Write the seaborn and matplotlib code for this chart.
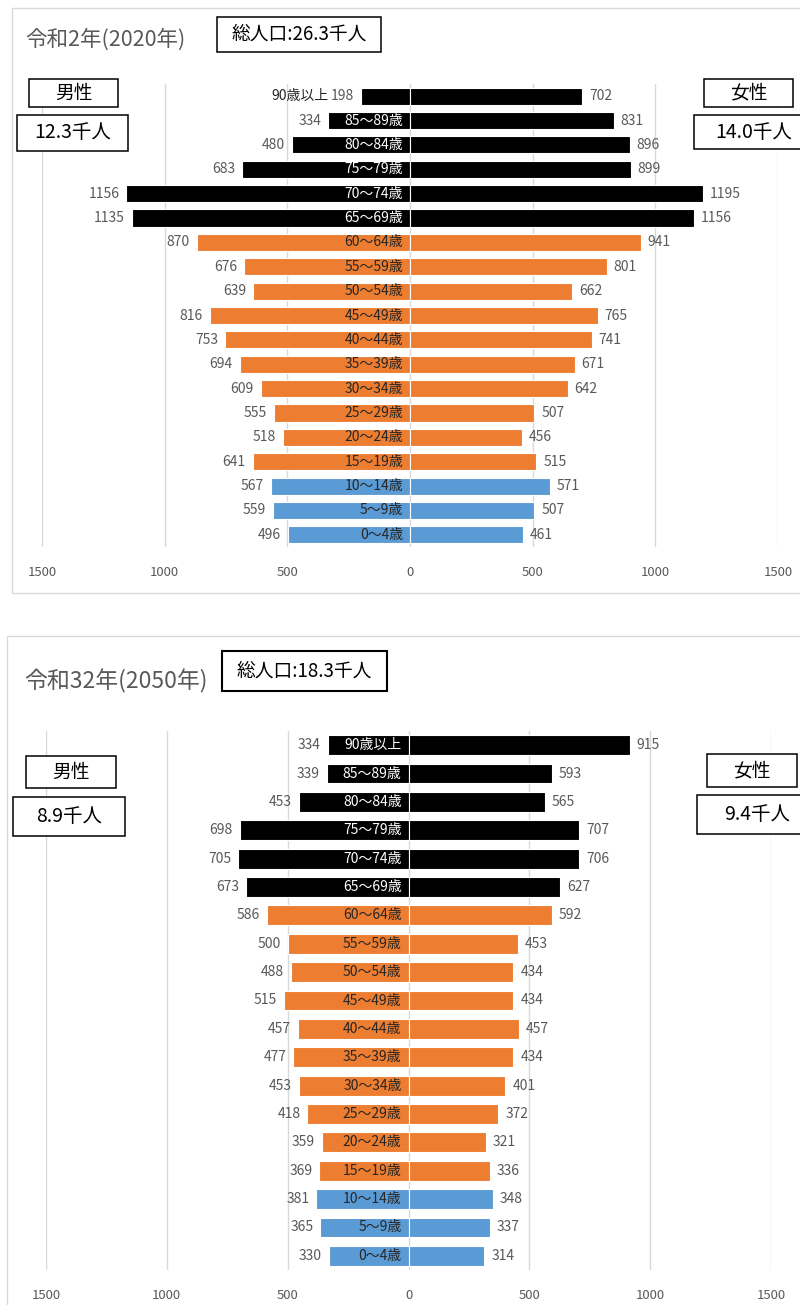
import matplotlib
matplotlib.use("Agg")
import matplotlib.pyplot as plt
from matplotlib.patches import Rectangle
import pandas as pd
import seaborn as sns

# age classes, top row first
ages = ["90歳以上", "85～89歳", "80～84歳", "75～79歳", "70～74歳", "65～69歳",
        "60～64歳", "55～59歳", "50～54歳", "45～49歳", "40～44歳", "35～39歳",
        "30～34歳", "25～29歳", "20～24歳", "15～19歳", "10～14歳", "5～9歳", "0～4歳"]
groups = ["old"] * 6 + ["work"] * 10 + ["young"] * 3

male_2020 = [198, 334, 480, 683, 1156, 1135, 870, 676, 639, 816, 753, 694, 609, 555, 518, 641, 567, 559, 496]
female_2020 = [702, 831, 896, 899, 1195, 1156, 941, 801, 662, 765, 741, 671, 642, 507, 456, 515, 571, 507, 461]
male_2050 = [334, 339, 453, 698, 705, 673, 586, 500, 488, 515, 457, 477, 453, 418, 359, 369, 381, 365, 330]
female_2050 = [915, 593, 565, 707, 706, 627, 592, 453, 434, 434, 457, 434, 401, 372, 321, 336, 348, 337, 314]

titles = ["令和2年(2020年)", "令和32年(2050年)"]
totals = ["総人口:26.3千人", "総人口:18.3千人"]
male_totals = ["12.3千人", "8.9千人"]
female_totals = ["14.0千人", "9.4千人"]
ticks = [-1500, -1000, -500, 0, 500, 1000, 1500]

palette = {"old": "#000000", "work": "#ED7D31", "young": "#5B9BD5"}
label_color = {"old": "white", "work": "#262626", "young": "#262626"}

sns.set_style("white")
plt.rcParams["font.family"] = ["Noto Sans CJK JP", "DejaVu Sans"]

W, H = 800, 1305
fig = plt.figure(figsize=(W / 100, H / 100), dpi=100)


def rect(x, y, w, h, **kw):
    # pixel box -> figure fraction rectangle
    fig.patches.append(Rectangle((x / W, 1 - (y + h) / H), w / W, h / H,
                                 transform=fig.transFigure, figure=fig, **kw))


def boxed(text, x, y, w, h, size, lw=1.1):
    rect(x, y, w, h, facecolor="white", edgecolor="black", linewidth=lw, zorder=5)
    fig.text((x + w / 2) / W, 1 - (y + h / 2) / H, text, ha="center", va="center",
             fontsize=size, color="black", zorder=6)


def pyramid(ax, male, female):
    df = pd.DataFrame({"age": ages, "group": groups, "male": male, "female": female})
    df["male_neg"] = -df["male"]
    for col in ["male_neg", "female"]:
        sns.barplot(data=df, x=col, y="age", hue="group", palette=palette, dodge=False,
                    legend=False, orient="h", width=0.7, edgecolor="white", linewidth=0.8,
                    saturation=1, ax=ax)
    for i, r in df.iterrows():
        ax.annotate(str(r["male"]), (-r["male"], i), xytext=(-5, 0), textcoords="offset points",
                    ha="right", va="center", fontsize=10, color="#595959")
        ax.annotate(str(r["female"]), (r["female"], i), xytext=(5, 0), textcoords="offset points",
                    ha="left", va="center", fontsize=10, color="#595959")
        if r["male"] < 300:
            # label does not fit inside the short bar: put it left of the value
            ax.annotate(r["age"], (-r["male"], i), xytext=(-24, 0), textcoords="offset points",
                        ha="right", va="center", fontsize=10, color="#262626")
        else:
            ax.annotate(r["age"], (0, i), xytext=(-5, 0), textcoords="offset points",
                        ha="right", va="center", fontsize=10, color=label_color[r["group"]])
    ax.set_xlim(-1500, 1500)
    ax.set_ylim(len(ages) - 0.5, -0.5)
    ax.set_xticks(ticks)
    ax.set_xticklabels([str(abs(t)) for t in ticks])
    ax.set_yticks([])
    ax.set_xlabel("")
    ax.set_ylabel("")
    ax.xaxis.grid(True, color="#D9D9D9", linewidth=1)
    ax.set_axisbelow(True)
    ax.tick_params(axis="x", length=0, pad=14, labelsize=9.5, labelcolor="#595959")
    ax.patch.set_alpha(0)
    sns.despine(ax=ax, left=True, bottom=True)


# panel frames
rect(12, 8, 800, 585, facecolor="none", edgecolor="#D9D9D9", linewidth=1)
rect(7, 636, 800, 680, facecolor="none", edgecolor="#D9D9D9", linewidth=1)

ax1 = fig.add_axes([42 / W, 1 - 547 / H, 736 / W, 463 / H])
pyramid(ax1, male_2020, female_2020)
ax2 = fig.add_axes([46 / W, 1 - 1270 / H, 725 / W, 539 / H])
pyramid(ax2, male_2050, female_2050)

fig.text(25 / W, 1 - 40 / H, titles[0], ha="left", va="center", fontsize=15.5, color="#595959")
fig.text(24 / W, 1 - 681 / H, titles[1], ha="left", va="center", fontsize=16.5, color="#595959")

boxed(totals[0], 217, 17, 164, 35, 13.5)
boxed(totals[1], 222, 651, 165, 40, 13.5, lw=1.5)

boxed("男性", 29, 79, 89, 28, 13.5)
boxed(male_totals[0], 17, 115, 111, 36, 14)
boxed("女性", 704, 79, 89, 28, 13.5)
boxed(female_totals[0], 694, 115, 120, 34, 14)

boxed("男性", 26, 756, 90, 32, 13.5)
boxed(male_totals[1], 13, 797, 112, 39, 14)
boxed("女性", 707, 754, 90, 33, 13.5)
boxed(female_totals[1], 697, 795, 120, 39, 14)

fig.savefig("out.png", dpi=100)
